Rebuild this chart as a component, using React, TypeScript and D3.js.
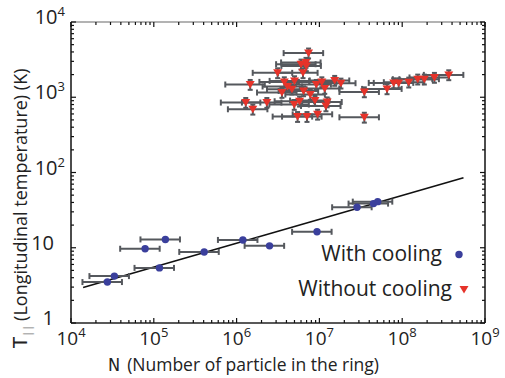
import * as d3 from 'd3';

// with cooling (blue circles)
const coolN = [2.75e4, 3.34e4, 7.85e4, 1.38e5, 1.17e5, 4.06e5, 1.19e6, 2.5e6, 9.36e6, 2.85e7, 4.5e7, 5.06e7];
const coolT = [3.5, 4.2, 9.7, 12.9, 5.4, 8.8, 12.7, 10.6, 16.3, 34.5, 38.6, 41];

// without cooling (red triangles)
const hotN = [
  7.4e6, 6.0e6, 6.89e6, 6.95e6, 3.13e6, 6.34e6, 1.46e6, 3.77e6, 5.01e6, 4.12e6,
  4.66e6, 3.53e6, 6.44e6, 7.76e6, 9.18e6, 1.07e7, 1.16e7, 1.53e7, 1.82e7, 1.29e6,
  2.32e6, 1.57e6, 4.97e6, 5.76e6, 8.85e6, 1.24e7, 1.2e7, 5.45e6, 7.08e6, 9.51e6,
  3.49e7, 6.56e7, 7.89e7, 9.07e7, 1.2e8, 1.54e8, 1.85e8, 2.45e8, 3.65e8, 3.49e7,
];
const hotT = [
  3860, 2750, 2900, 2610, 2110, 2110, 1476, 1600, 1650, 1390,
  1280, 1155, 1213, 1087, 1476, 1600, 1306, 1670, 1537, 850,
  850, 692, 800, 885, 904, 865, 766, 553, 553, 593,
  1177, 1291, 1552, 1552, 1585, 1738, 1738, 1832, 1983, 541,
];

// relative error bars
const nRelErr = 0.5;
const hotTRelErr = 0.15;

// power-law fit line end points
const fitN = [1.4e4, 5.5e8];
const fitT = [2.96, 85];

const xTickExp = [4, 5, 6, 7, 8, 9];
const yTickLabels = [
  { v: 1e4, base: '10', exp: '4' },
  { v: 1e3, base: '10', exp: '3' },
  { v: 1e2, base: '10', exp: '2' },
  { v: 10, base: '10', exp: '' },
  { v: 1, base: '1', exp: '' },
];

const FONT = '"Open Sans", "DejaVu Sans", sans-serif';
const NARROW = '"Liberation Sans Narrow", "DejaVu Sans Condensed", sans-serif';
const BAR = '#55585d';
const BLUE = '#3a3f9c';
const RED = '#e6332a';

export default function App() {
  const width = 505;
  const height = 378;
  const x = d3.scaleLog().domain([1e4, 1e9]).range([71, 485]);
  const y = d3.scaleLog().domain([1, 1e4]).range([323, 22]);
  const [x0, x1] = x.range();
  const [y0, y1] = y.range();

  const isMajor = (v: number) => Math.abs(Math.log10(v) - Math.round(Math.log10(v))) < 1e-9;
  const xTicks = x.ticks();
  const yTicks = y.ticks();

  const line = d3
    .line<number>()
    .x((_, i) => x(fitN[i]))
    .y((_, i) => y(fitT[i]));

  const cap = 3;
  const tri = 'M-4.5,-3.5L4.5,-3.5L0,4Z';

  return (
    <svg
      width={width}
      height={height}
      style={{ position: 'absolute', left: 0, top: 0, background: '#fff' }}
    >
      {/* fit line */}
      <path d={line(fitN) ?? ''} fill="none" stroke="#111" strokeWidth={1.6} />

      {/* error bars: without cooling */}
      <g stroke={BAR} strokeWidth={2} fill="none">
        {hotN.map((n, i) => {
          const cy = y(hotT[i]);
          const xl = x(n * (1 - nRelErr));
          const xr = x(n * (1 + nRelErr));
          const yt = y(hotT[i] * (1 + hotTRelErr));
          const yb = y(hotT[i] * (1 - hotTRelErr));
          const cx = x(n);
          return (
            <g key={'he' + i}>
              <line x1={xl} x2={xr} y1={cy} y2={cy} />
              <line x1={xl} x2={xl} y1={cy - cap} y2={cy + cap} />
              <line x1={xr} x2={xr} y1={cy - cap} y2={cy + cap} />
              <line x1={cx} x2={cx} y1={yt} y2={yb} />
              <line x1={cx - 2.5} x2={cx + 2.5} y1={yt} y2={yt} />
              <line x1={cx - 2.5} x2={cx + 2.5} y1={yb} y2={yb} />
            </g>
          );
        })}
      </g>

      {/* error bars: with cooling */}
      <g stroke={BAR} strokeWidth={2} fill="none">
        {coolN.map((n, i) => {
          const cy = y(coolT[i]);
          const xl = x(n * (1 - nRelErr));
          const xr = x(n * (1 + nRelErr));
          return (
            <g key={'ce' + i}>
              <line x1={xl} x2={xr} y1={cy} y2={cy} />
              <line x1={xl} x2={xl} y1={cy - cap} y2={cy + cap} />
              <line x1={xr} x2={xr} y1={cy - cap} y2={cy + cap} />
            </g>
          );
        })}
      </g>

      {/* markers */}
      {hotN.map((n, i) => (
        <path key={'h' + i} d={tri} fill={RED} transform={`translate(${x(n)},${y(hotT[i])})`} />
      ))}
      {coolN.map((n, i) => (
        <circle key={'c' + i} cx={x(n)} cy={y(coolT[i])} r={3.7} fill={BLUE} />
      ))}

      {/* axes box */}
      <line x1={x0} x2={x1} y1={y1} y2={y1} stroke="#9a9a9a" strokeWidth={1.5} />
      <line x1={x0} x2={x1} y1={y0} y2={y0} stroke="#222" strokeWidth={1.5} />
      <line x1={x0} x2={x0} y1={y0} y2={y1} stroke="#111" strokeWidth={1.5} />
      <line x1={x1} x2={x1} y1={y0} y2={y1} stroke="#111" strokeWidth={1.5} />

      {/* ticks */}
      <g stroke="#111" strokeWidth={1.2}>
        {xTicks.map((t, i) => {
          const len = isMajor(t) ? 5 : 3;
          return (
            <g key={'xt' + i}>
              <line x1={x(t)} x2={x(t)} y1={y0} y2={y0 - len} />
              <line x1={x(t)} x2={x(t)} y1={y1} y2={y1 + len} />
            </g>
          );
        })}
        {yTicks.map((t, i) => {
          const len = isMajor(t) ? 5 : 3;
          return (
            <g key={'yt' + i}>
              <line x1={x0} x2={x0 + len} y1={y(t)} y2={y(t)} />
              <line x1={x1} x2={x1 - len} y1={y(t)} y2={y(t)} />
            </g>
          );
        })}
      </g>

      {/* tick labels */}
      <g fontFamily={FONT} fill="#222">
        {xTickExp.map((e) => (
          <text key={'xl' + e} x={x(Math.pow(10, e))} y={345} textAnchor="middle" fontSize={19}>
            <tspan>10</tspan>
            <tspan dy={-8} fontSize={13}>
              {e}
            </tspan>
          </text>
        ))}
        {yTickLabels.map((d) => (
          <text
            key={'yl' + d.v}
            x={d.exp ? 65 : 54}
            y={y(d.v) + 2}
            textAnchor="end"
            fontSize={20}
          >
            <tspan>{d.base}</tspan>
            {d.exp && (
              <tspan dy={-8} fontSize={13}>
                {d.exp}
              </tspan>
            )}
          </text>
        ))}
      </g>

      {/* axis titles */}
      <text x={108} y={370.5} fontFamily={FONT} fontSize={17.5} fill="#222">
        <tspan fontFamily={NARROW} fontSize={18}>N</tspan>
        <tspan dx={7}>(Number of particle in the ring)</tspan>
      </text>
      <text
        transform="translate(27,348) rotate(-90)"
        fontFamily={FONT}
        fontSize={18}
        fill="#222"
      >
        <tspan fontFamily={NARROW} fontSize={20}>T</tspan>
        <tspan dy={4} fontSize={11} fill="#777">||</tspan>
        <tspan dy={-4} dx={4}>(Longitudinal temperature) (K)</tspan>
      </text>

      {/* legend */}
      <g fontFamily={FONT} fontSize={21} fill="#222">
        <text x={442} y={261} textAnchor="end">With cooling</text>
        <circle cx={459} cy={254.5} r={3.7} fill={BLUE} />
        <text x={452} y={296} textAnchor="end">Without cooling</text>
        <path d={tri} fill={RED} transform="translate(464,289.5)" />
      </g>
    </svg>
  );
}
